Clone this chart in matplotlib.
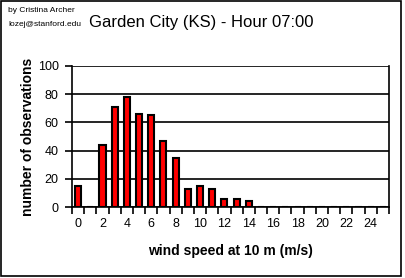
import numpy as np
import matplotlib
matplotlib.use("Agg")
import matplotlib.pyplot as plt
from matplotlib.patches import Rectangle

plt.rcParams['font.family'] = ['Liberation Sans', 'DejaVu Sans']

speeds = list(range(26))
counts = [15, 0, 44, 71, 78, 66, 65, 47, 35, 13, 15, 13, 6, 6, 4,
          0, 0, 0, 0, 0, 0, 0, 0, 0, 0, 0]
tick_labels = [str(s) if s % 2 == 0 else "" for s in speeds]

fig = plt.figure(figsize=(4.05, 2.78), dpi=100)
ax = fig.add_axes([72/405, 1 - 207/278, 317/405, 141/278])

x = np.array(speeds)
ax.bar(x, counts, width=0.5, color="red", edgecolor="black", linewidth=1.5, zorder=3)

ax.set_xlim(-0.5, 25.5)
ax.set_ylim(0, 100)
ax.set_yticks([0, 20, 40, 60, 80, 100])
ax.yaxis.grid(True, color="black", linewidth=1.2)
ax.set_axisbelow(True)

# ticks at category boundaries, labels at centers
ax.set_xticks(np.arange(-0.5, 26, 1))
ax.set_xticklabels([])
ax.set_xticks(x, tick_labels, minor=True)
ax.tick_params(axis="x", which="major", direction="out", length=5, width=1.2)
ax.tick_params(axis="x", which="minor", length=0, labelsize=9, pad=8)
ax.tick_params(axis="y", direction="out", length=5, width=1.2, labelsize=9, pad=4.5)

for s in ["left", "bottom", "right"]:
    ax.spines[s].set_linewidth(1.2)
ax.spines["top"].set_visible(False)

ax.set_xlabel("wind speed at 10 m (m/s)", fontsize=10, fontweight="bold", labelpad=10)
ax.set_ylabel("number of observations", fontsize=10, fontweight="bold", labelpad=2)

fig.text(201/405, 1 - 23/278, "Garden City (KS) - Hour 07:00", fontsize=12,
         ha="center", va="center")
fig.text(8/405, 1 - 11/278, "by Cristina Archer", fontsize=6, ha="left", va="center")
fig.text(8/405, 1 - 24/278, "lozej@stanford.edu", fontsize=6, ha="left", va="center")

fig.patches.append(Rectangle((0.002, 0.008), 0.988, 0.99, transform=fig.transFigure,
                             fill=False, edgecolor="black", linewidth=1.2))

fig.savefig("out.png", dpi=100)
